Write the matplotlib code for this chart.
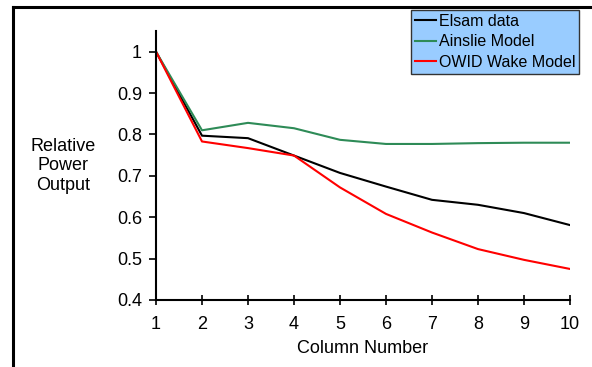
import matplotlib.pyplot as plt
from matplotlib.lines import Line2D

plt.rcParams['font.family'] = ['Liberation Sans', 'DejaVu Sans']

columns = [1, 2, 3, 4, 5, 6, 7, 8, 9, 10]
elsam = [1.0, 0.797, 0.791, 0.749, 0.707, 0.674, 0.642, 0.630, 0.610, 0.581]
ainslie = [1.0, 0.810, 0.828, 0.815, 0.787, 0.777, 0.777, 0.779, 0.780, 0.780]
owid = [1.0, 0.783, 0.767, 0.749, 0.672, 0.608, 0.563, 0.523, 0.497, 0.475]

fig = plt.figure(figsize=(5.92, 3.67), dpi=100)
ax = fig.add_axes([0.2635, 0.1826, 0.6993, 0.733])

ax.plot(columns, elsam, color='black', lw=1.5, label='Elsam data')
ax.plot(columns, ainslie, color='#2e8b57', lw=1.5, label='Ainslie Model')
ax.plot(columns, owid, color='red', lw=1.5, label='OWID Wake Model')

ax.set_xlim(1, 10)
ax.set_ylim(0.4, 1.05)
ax.set_xticks(columns)
ax.set_yticks([0.4, 0.5, 0.6, 0.7, 0.8, 0.9, 1.0])
ax.set_yticklabels(['0.4', '0.5', '0.6', '0.7', '0.8', '0.9', '1'])
ax.spines['top'].set_visible(False)
ax.spines['right'].set_visible(False)
ax.spines['left'].set_linewidth(1.5)
ax.spines['bottom'].set_linewidth(1.5)
ax.tick_params(axis='x', direction='inout', length=7, width=1.2, labelsize=13, pad=8)
ax.tick_params(axis='y', direction='out', length=5, width=1.2, labelsize=13, pad=5)

ax.set_xlabel('Column Number', fontsize=13, labelpad=5)
fig.text(0.107, 0.548, 'Relative\nPower\nOutput', ha='center', va='center',
         fontsize=13, linespacing=1.2)

leg = fig.legend(loc='upper left', bbox_to_anchor=(0.694, 0.973), frameon=True,
                 fancybox=False, fontsize=11.5, handlelength=1.3, handletextpad=0.2,
                 borderpad=0.25, labelspacing=0.35, borderaxespad=0)
leg.get_frame().set_facecolor('#99ccff')
leg.get_frame().set_edgecolor('#333333')
leg.get_frame().set_alpha(1)

# figure border (top and left only)
fig.add_artist(Line2D([0.022, 1.0], [0.981, 0.981], color='black', lw=2.2,
                      transform=fig.transFigure))
fig.add_artist(Line2D([0.022, 0.022], [0.0, 0.981], color='black', lw=2.2,
                      transform=fig.transFigure))

fig.savefig('out.png', dpi=100)
